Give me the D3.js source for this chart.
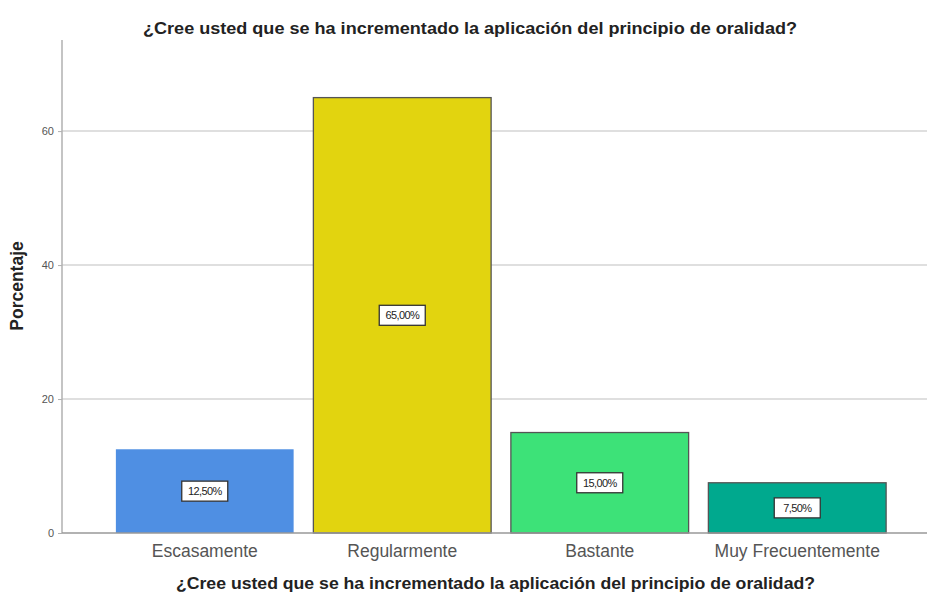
<!DOCTYPE html>
<html>
<head>
<meta charset="utf-8">
<script src="https://cdn.jsdelivr.net/npm/d3@7"></script>
<style>
  body { margin: 0; background: #fff; }
  text { font-family: "Liberation Sans", Arial, sans-serif; }
</style>
</head>
<body>
<div id="chart"></div>
<script>
var categories = ["Escasamente", "Regularmente", "Bastante", "Muy Frecuentemente"];
var porcentajes = [12.5, 65, 15, 7.5];
var etiquetas = ["12,50%", "65,00%", "15,00%", "7,50%"];
var colores = ["#4f8fe3", "#e2d40f", "#3de278", "#00a98e"];
var yTicks = [0, 20, 40, 60];
var titulo = "¿Cree usted que se ha incrementado la aplicación del principio de oralidad?";

function makeBars() {
    let width = 927;
    let height = 602;
    let left = 62, right = 927, top = 40, bottom = 533;

    var svg = d3.select("#chart")
        .append("svg")
        .attr("width", width)
        .attr("height", height);

    var xScale = d3.scaleBand()
        .domain(categories)
        .range([106, 896])
        .paddingInner(0.1)
        .paddingOuter(0.05);

    var yScale = d3.scaleLinear()
        .domain([0, 73.6])
        .range([bottom, top]);

    // gridlines
    svg.selectAll("line.grid")
        .data(yTicks.slice(1))
        .enter()
        .append("line")
        .attr("class", "grid")
        .attr("x1", left)
        .attr("x2", right)
        .attr("y1", function (d) { return yScale(d); })
        .attr("y2", function (d) { return yScale(d); })
        .attr("stroke", "#d4d4d4")
        .attr("stroke-width", 1.5);

    // y axis
    let yAxis = d3.axisLeft(yScale)
        .tickValues(yTicks)
        .tickSize(4)
        .tickPadding(4);

    var gy = svg.append("g")
        .attr("transform", "translate(" + left + ",0)")
        .call(yAxis);
    gy.select(".domain").attr("stroke", "#b0b0b0").attr("stroke-width", 1.5).attr("d", "M0," + top + "V" + bottom);
    gy.selectAll(".tick line").attr("stroke", "#b0b0b0");
    gy.selectAll(".tick text")
        .attr("fill", "#555")
        .style("font-size", "11px");

    // bars
    svg.selectAll("rect.bar")
        .data(porcentajes)
        .enter()
        .append("rect")
        .attr("class", "bar")
        .attr("x", function (d, i) { return xScale(categories[i]); })
        .attr("y", function (d) { return yScale(d); })
        .attr("width", xScale.bandwidth())
        .attr("height", function (d) { return bottom - yScale(d); })
        .attr("fill", function (d, i) { return colores[i]; })
        .attr("stroke", function (d, i) { return i == 0 ? "none" : "#555"; })
        .attr("stroke-width", 1.3);

    // x axis line
    svg.append("line")
        .attr("x1", left)
        .attr("x2", right)
        .attr("y1", bottom)
        .attr("y2", bottom)
        .attr("stroke", "#999")
        .attr("stroke-width", 1.5);

    // value labels
    var lab = svg.selectAll("g.lab")
        .data(porcentajes)
        .enter()
        .append("g")
        .attr("class", "lab")
        .attr("transform", function (d, i) {
            return "translate(" + (xScale(categories[i]) + xScale.bandwidth() / 2) + "," + (yScale(d / 2)) + ")";
        });
    lab.append("rect")
        .attr("x", -23)
        .attr("y", -10)
        .attr("width", 46)
        .attr("height", 20)
        .attr("fill", "#fff")
        .attr("stroke", "#333")
        .attr("stroke-width", 1.3);
    lab.append("text")
        .attr("text-anchor", "middle")
        .attr("dy", "0.36em")
        .style("font-size", "11px")
        .style("letter-spacing", "-0.6px")
        .attr("fill", "#222")
        .text(function (d, i) { return etiquetas[i]; });

    // category labels
    svg.selectAll("text.cat")
        .data(categories)
        .enter()
        .append("text")
        .attr("class", "cat")
        .attr("x", function (d) { return xScale(d) + xScale.bandwidth() / 2; })
        .attr("y", 557)
        .attr("text-anchor", "middle")
        .attr("fill", "#555")
        .style("font-size", "17.5px")
        .text(function (d) { return d; });

    // titles
    svg.append("text")
        .attr("x", 143)
        .attr("y", 34)
        .attr("textLength", 654)
        .attr("lengthAdjust", "spacingAndGlyphs")
        .attr("fill", "#222")
        .style("font-size", "16px")
        .style("font-weight", "bold")
        .text(titulo);

    svg.append("text")
        .attr("x", 176)
        .attr("y", 589)
        .attr("textLength", 639)
        .attr("lengthAdjust", "spacingAndGlyphs")
        .attr("fill", "#222")
        .style("font-size", "16px")
        .style("font-weight", "bold")
        .text(titulo);

    svg.append("text")
        .attr("transform", "translate(23," + 286 + ") rotate(-90)")
        .attr("text-anchor", "middle")
        .attr("fill", "#222")
        .style("font-size", "17.5px")
        .style("font-weight", "bold")
        .text("Porcentaje");
}

makeBars();
</script>
</body>
</html>
